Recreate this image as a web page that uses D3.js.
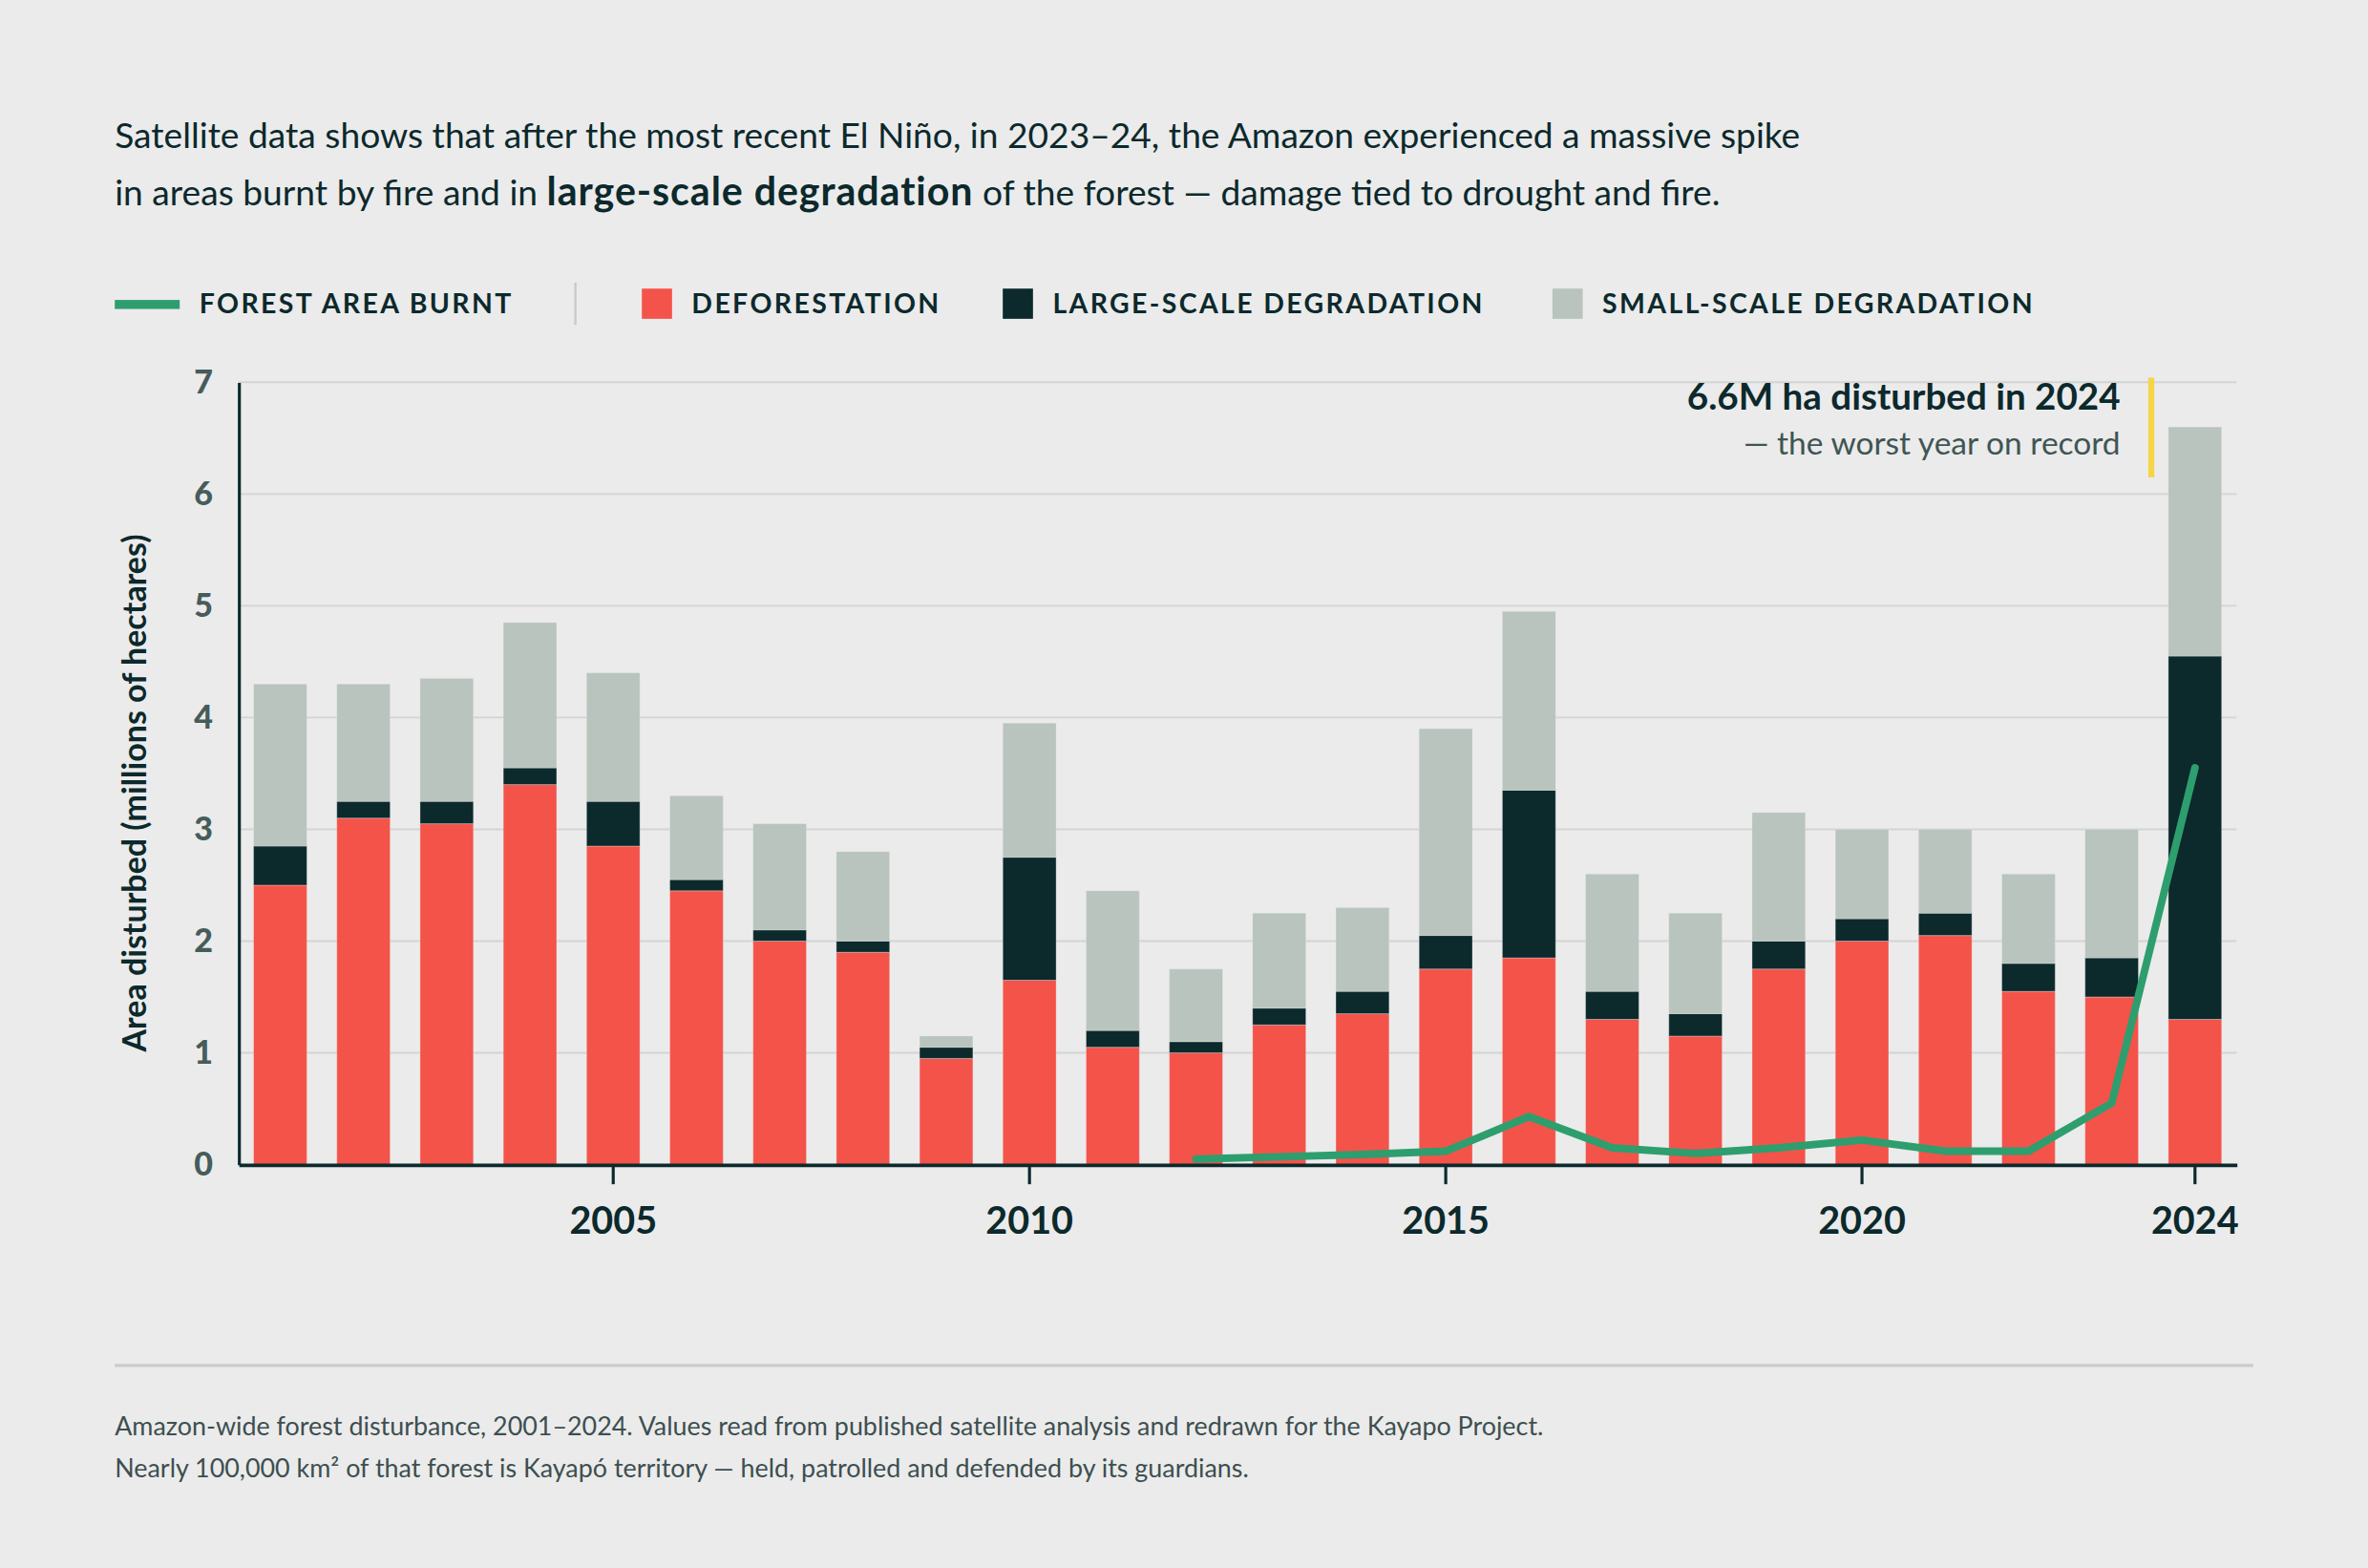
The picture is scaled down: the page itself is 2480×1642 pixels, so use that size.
<!DOCTYPE html>
<html>
<head>
<meta charset="utf-8">
<script src="https://cdn.jsdelivr.net/npm/d3@7"></script>
<style>
  html, body { margin: 0; padding: 0; background: #ebebeb; }
  svg { display: block; font-family: Lato, "Noto Sans", sans-serif; }
</style>
</head>
<body>
<div class="chart"></div>
<script>
// data (millions of hectares)
const years = d3.range(2001, 2025);
const deforestation = [2.5, 3.1, 3.05, 3.4, 2.85, 2.45, 2.0, 1.9, 0.95, 1.65, 1.05, 1.0,
  1.25, 1.35, 1.75, 1.85, 1.3, 1.15, 1.75, 2.0, 2.05, 1.55, 1.5, 1.3];
const largeScale = [0.35, 0.15, 0.2, 0.15, 0.4, 0.1, 0.1, 0.1, 0.1, 1.1, 0.15, 0.1,
  0.15, 0.2, 0.3, 1.5, 0.25, 0.2, 0.25, 0.2, 0.2, 0.25, 0.35, 3.25];
const smallScale = [1.45, 1.05, 1.1, 1.3, 1.15, 0.75, 0.95, 0.8, 0.1, 1.2, 1.25, 0.65,
  0.85, 0.75, 1.85, 1.6, 1.05, 0.9, 1.15, 0.8, 0.75, 0.8, 1.15, 2.05];
const burntYears = d3.range(2012, 2025);
const burnt = [0.05, 0.07, 0.09, 0.12, 0.43, 0.15, 0.1, 0.15, 0.22, 0.12, 0.12, 0.55, 3.55];
const yTicks = [0, 1, 2, 3, 4, 5, 6, 7];
const xTicks = [2005, 2010, 2015, 2020, 2024];

const seriesKeys = ['deforestation', 'large', 'small'];
const colors = { deforestation: '#f4534a', large: '#0c292c', small: '#b8c4bd' };
const ink = '#0c292c';

// drawn in a 1568 x 1038 coordinate space, shown at 2480 x 1642
let width = 1568;
let height = 1038;
let margin = { top: 253, right: 87, bottom: 267, left: 158 };

let svg = d3.select('.chart')
  .append('svg')
  .attr('width', 2480)
  .attr('height', 1642)
  .attr('viewBox', '0 0 ' + width + ' ' + height);

svg.append('rect').attr('width', width).attr('height', height).attr('fill', '#ebebeb');

// intro text
let intro = svg.append('text')
  .attr('x', 76)
  .attr('font-size', 23.5)
  .attr('fill', ink);
intro.append('tspan').attr('x', 76).attr('y', 98)
  .text('Satellite data shows that after the most recent El Niño, in 2023–24, the Amazon experienced a massive spike');
let line2 = intro.append('tspan').attr('x', 76).attr('y', 136);
line2.append('tspan').text('in areas burnt by fire and in ');
line2.append('tspan').attr('font-weight', 700).attr('font-size', 26)
  .attr('letter-spacing', 0.6).text('large-scale degradation');
line2.append('tspan').attr('letter-spacing', 0).text(' of the forest — damage tied to drought and fire.');

// legend
let legend = svg.append('g').attr('font-size', 18).attr('font-weight', 700)
  .attr('letter-spacing', 1.5).attr('fill', ink);
legend.append('rect').attr('x', 76).attr('y', 198.5).attr('width', 43).attr('height', 6)
  .attr('fill', '#2e9e6e');
legend.append('text').attr('x', 132).attr('y', 207.5).text('FOREST AREA BURNT');
legend.append('line').attr('x1', 381).attr('x2', 381).attr('y1', 187).attr('y2', 215)
  .attr('stroke', '#c8c9c9').attr('stroke-width', 1.5);
const legendItems = [
  { key: 'deforestation', label: 'DEFORESTATION', x: 425 },
  { key: 'large', label: 'LARGE-SCALE DEGRADATION', x: 664 },
  { key: 'small', label: 'SMALL-SCALE DEGRADATION', x: 1028 }
];
legendItems.forEach(function(d) {
  legend.append('rect').attr('x', d.x).attr('y', 191).attr('width', 20).attr('height', 20)
    .attr('fill', colors[d.key]);
  legend.append('text').attr('x', d.x + 33).attr('y', 207.5).text(d.label);
});

// scales
let xScale = d3.scaleBand()
  .domain(years)
  .range([margin.left, width - margin.right])
  .paddingInner(0.36)
  .paddingOuter(0.18);

let yScale = d3.scaleLinear()
  .domain([0, 7])
  .range([height - margin.bottom, margin.top]);

let g = svg.append('g');

// gridlines
g.append('g').selectAll('line')
  .data(yTicks.slice(1))
  .enter().append('line')
  .attr('x1', margin.left)
  .attr('x2', width - margin.right)
  .attr('y1', d => yScale(d))
  .attr('y2', d => yScale(d))
  .attr('stroke', '#d3d4d4')
  .attr('stroke-width', 1.2);

// stacked bars
let table = years.map(function(y, i) {
  return { year: y, deforestation: deforestation[i], large: largeScale[i], small: smallScale[i] };
});
let stacked = d3.stack().keys(seriesKeys)(table);

g.append('g').selectAll('g')
  .data(stacked)
  .enter().append('g')
  .attr('fill', d => colors[d.key])
  .selectAll('rect')
  .data(d => d)
  .enter().append('rect')
  .attr('x', d => xScale(d.data.year))
  .attr('y', d => yScale(d[1]))
  .attr('width', xScale.bandwidth())
  .attr('height', d => yScale(d[0]) - yScale(d[1]))
  .attr('stroke', '#ebebeb')
  .attr('stroke-opacity', 0.35)
  .attr('stroke-width', 0.6);

// forest area burnt line
let line = d3.line()
  .x((d, i) => xScale(burntYears[i]) + xScale.bandwidth() / 2)
  .y(d => yScale(d));

g.append('path')
  .datum(burnt)
  .attr('d', line)
  .attr('fill', 'none')
  .attr('stroke', '#2e9e6e')
  .attr('stroke-width', 5)
  .attr('stroke-linejoin', 'round')
  .attr('stroke-linecap', 'round');

// y axis
let yAxis = g.append('g')
  .attr('transform', 'translate(' + margin.left + ',0)')
  .call(d3.axisLeft(yScale).tickValues(yTicks).tickFormat(d3.format('d')).tickSize(0).tickPadding(17));
yAxis.select('.domain').attr('stroke', ink).attr('stroke-width', 2);
yAxis.selectAll('text')
  .attr('font-family', 'Lato, sans-serif')
  .attr('font-size', 21.5)
  .attr('font-weight', 900)
  .attr('fill', '#465c5b');

// x axis
let xAxis = g.append('g')
  .attr('transform', 'translate(0,' + (height - margin.bottom) + ')')
  .call(d3.axisBottom(xScale).tickValues(xTicks).tickSize(13).tickPadding(15).tickSizeOuter(0));
xAxis.select('.domain').attr('stroke', ink).attr('stroke-width', 2.4);
xAxis.selectAll('.tick line').attr('stroke', ink).attr('stroke-width', 2);
xAxis.selectAll('text')
  .attr('font-family', 'Lato, sans-serif')
  .attr('font-size', 25)
  .attr('font-weight', 700)
  .attr('fill', ink);

// y axis title
svg.append('text')
  .attr('transform', 'translate(97,525) rotate(-90)')
  .attr('text-anchor', 'middle')
  .attr('font-size', 21.5)
  .attr('font-weight', 700)
  .attr('fill', ink)
  .text('Area disturbed (millions of hectares)');

// annotation
svg.append('text')
  .attr('x', 1404).attr('y', 271)
  .attr('text-anchor', 'end')
  .attr('font-size', 24.4)
  .attr('font-weight', 700)
  .attr('fill', ink)
  .text('6.6M ha disturbed in 2024');
svg.append('text')
  .attr('x', 1404).attr('y', 301)
  .attr('text-anchor', 'end')
  .attr('font-size', 21.2)
  .attr('fill', '#3f5554')
  .text('— the worst year on record');
svg.append('line')
  .attr('x1', 1424.5).attr('x2', 1424.5).attr('y1', 250).attr('y2', 316)
  .attr('stroke', '#f5d547').attr('stroke-width', 4);

// footer
svg.append('line')
  .attr('x1', 76).attr('x2', 1492).attr('y1', 904).attr('y2', 904)
  .attr('stroke', '#c9cccc').attr('stroke-width', 2);
let foot = svg.append('text').attr('font-size', 17).attr('fill', '#3d4f50');
foot.append('tspan').attr('x', 76).attr('y', 950)
  .text('Amazon-wide forest disturbance, 2001–2024. Values read from published satellite analysis and redrawn for the Kayapo Project.');
foot.append('tspan').attr('x', 76).attr('y', 978)
  .text('Nearly 100,000 km² of that forest is Kayapó territory — held, patrolled and defended by its guardians.');
</script>
</body>
</html>
